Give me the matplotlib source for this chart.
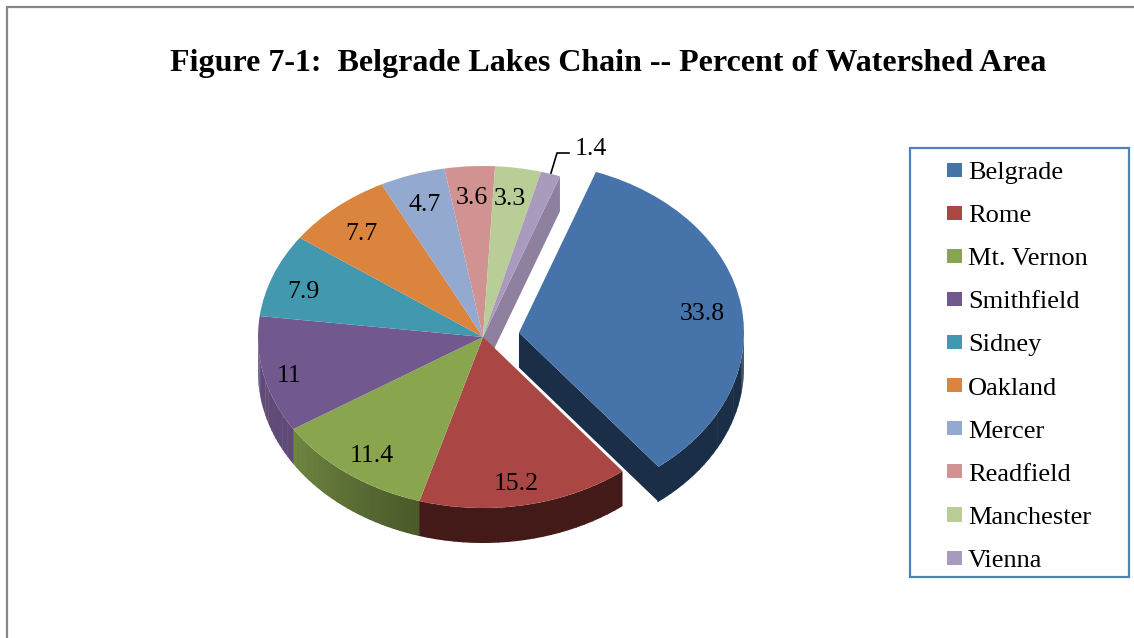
import numpy as np
import matplotlib
matplotlib.use("Agg")
import matplotlib.pyplot as plt
from matplotlib.colors import to_rgb
from matplotlib.patches import Rectangle

# ---- data ----
categories = ["Belgrade", "Rome", "Mt. Vernon", "Smithfield", "Sidney",
              "Oakland", "Mercer", "Readfield", "Manchester", "Vienna"]
values = [33.8, 15.2, 11.4, 11, 7.9, 7.7, 4.7, 3.6, 3.3, 1.4]
value_labels = ["33.8", "15.2", "11.4", "11", "7.9", "7.7", "4.7", "3.6", "3.3", "1.4"]
title = "Figure 7-1:  Belgrade Lakes Chain -- Percent of Watershed Area"

# ---- style ----
colors = ["#4674AA", "#AA4643", "#89A54E", "#71588F", "#4198AF",
          "#DB843D", "#93A9CF", "#D19392", "#B9CD96", "#A99BBD"]
W, H = 1134, 638
CX, CY = 483, 337      # pie centre in pixels
RX, RY = 225, 171      # pie radii in pixels
DEPTH = 35 / RY        # wall height in pie units
EXPLODE = 0.162
START = 20.0           # first slice starts this many degrees clockwise from 12 o'clock
LABEL_XY = [(702, 314), (516, 484), (372, 456), (289, 376), (303, 292),
            (361, 234), (425, 205), (472, 198), (510, 199), (591, 149)]
WALL_SHADE = {  # index: (shade at start angle, shade at end angle)
    0: ("#1A2E47", "#1A2E47"), 1: ("#431A17", "#431A17"),
    2: ("#4A5A2A", "#6E8540"), 3: ("#5F4A78", "#5F4A78")}
FACE_SHADE = {0: "#1A2E47", 9: "#8F80A0"}

plt.rcParams["font.family"] = ["Liberation Serif", "DejaVu Serif"]
fig = plt.figure(figsize=(W / 100, H / 100), dpi=100, facecolor="white")

ax = fig.add_axes([0, 0, 1, 1])
wedges, _ = ax.pie(values, colors=colors, startangle=90 - START, counterclock=False,
                   explode=[EXPLODE] + [0] * (len(values) - 1), radius=1,
                   wedgeprops=dict(linewidth=0))
ax.set_aspect("auto")
ax.set_xlim(-CX / RX, (W - CX) / RX)
ax.set_ylim((CY - H) / RY, CY / RY)
ax.axis("off")

# slice boundaries, clockwise from 12 o'clock, from the values
edges = START + np.concatenate([[0], np.cumsum(values)]) / sum(values) * 360.0
mid0 = np.radians((edges[0] + edges[1]) / 2)
offsets = [(EXPLODE * np.sin(mid0), EXPLODE * np.cos(mid0))] + [(0, 0)] * (len(values) - 1)


def pt(a):
    r = np.radians(a)
    return np.sin(r), np.cos(r)


def outer_wall(i, z):
    a0 = max(edges[i], 90)
    a1 = min(edges[i + 1], 270)
    if a1 <= a0:
        return
    c0 = np.array(to_rgb(WALL_SHADE[i][0]))
    c1 = np.array(to_rgb(WALL_SHADE[i][1]))
    steps = np.linspace(a0, a1, 25)
    ox, oy = offsets[i]
    for k in range(len(steps) - 1):
        aa = np.linspace(steps[k], steps[k + 1] + 0.3, 4)
        xs = np.sin(np.radians(aa)) + ox
        ys = np.cos(np.radians(aa)) + oy
        t = k / (len(steps) - 2)
        ax.fill(np.r_[xs, xs[::-1]], np.r_[ys, ys[::-1] - DEPTH],
                color=c0 + (c1 - c0) * t, lw=0, zorder=z)


def cut_face(i, a, z):
    x, y = pt(a)
    ox, oy = offsets[i]
    ax.fill([ox, x + ox, x + ox, ox], [oy, y + oy, y + oy - DEPTH, oy - DEPTH],
            color=FACE_SHADE[i], lw=0, zorder=z)


# back to front: main body walls, main tops, exploded slice walls, exploded top
cut_face(9, edges[-1], 1)
for i in (1, 2, 3):
    outer_wall(i, 2)
for i, w in enumerate(wedges):
    w.set_zorder(3)
cut_face(0, edges[1], 4)
outer_wall(0, 4)
wedges[0].set_zorder(5)

# overlay in pixel coordinates
ov = fig.add_axes([0, 0, 1, 1], facecolor="none")
ov.set_xlim(0, W)
ov.set_ylim(H, 0)
ov.axis("off")

ov.plot([7, 7, W], [H, 7, 7], color="#868686", lw=1.6, solid_joinstyle="miter")
ov.text(608.5, 63, title, ha="center", va="center", fontsize=23,
        fontweight="bold", color="black")

for (x, y), s in zip(LABEL_XY, value_labels):
    ov.text(x, y, s, ha="center", va="center", fontsize=18.5, color="black", zorder=10)

# leader line of the smallest slice
ov.plot([551, 557, 569], [173, 153, 153], color="black", lw=1.2, zorder=10)

# legend
ov.add_patch(Rectangle((910, 148), 219, 429, fill=False, ec="#4F81BD", lw=1.6))
leg = ov.legend(wedges, categories, loc="upper left",
                bbox_to_anchor=(947 / W - 0.0, 1 - 162 / H),
                bbox_transform=fig.transFigure, frameon=False, fontsize=19,
                labelspacing=0.80, handlelength=0.58, handleheight=0.45,
                handletextpad=0.22, borderpad=0, borderaxespad=0)

fig.savefig("out.png", dpi=100)
